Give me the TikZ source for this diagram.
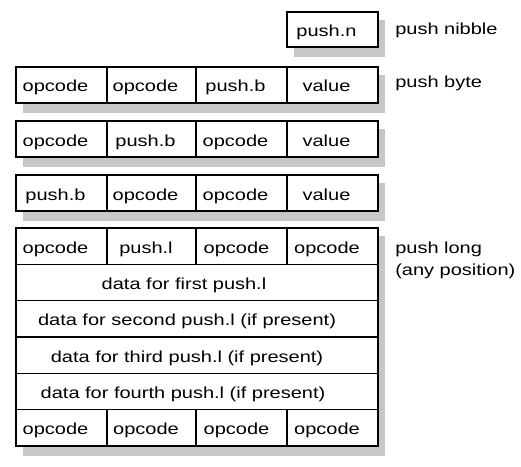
\documentclass[tikz,border=0pt]{standalone}
\usepackage{fontspec}
\newfontfamily\cellfont[FakeStretch=1.25]{Liberation Sans}
\usepackage{tikz}

\tikzset{
  shade/.style={fill=black!22},
  frame/.style={draw, fill=white, line width=0.8pt},
  rule/.style={line width=0.8pt},
  txt/.style={text height=10.5pt, text depth=0pt},
  lbl/.style={txt, anchor=west, inner sep=0pt},
}

\begin{document}
\begin{tikzpicture}[x=0.75pt,y=-0.75pt,font=\cellfont\fontsize{12}{14}\selectfont,
    every node/.append style={txt}]
  \useasboundingbox[fill=white] (0,0) rectangle (521,467);
  % push nibble: single cell
  \fill[shade] (294,20) rectangle (385,57);
  \draw[frame] (287,12) rectangle (378,47);
  \node (nib) at (326.5,29.5) {push.n};
  \node[lbl] (lblNib) at (395,28) {push nibble};
  % push byte: three rows of four cells
  \foreach \top/\a/\b/\c/\d [count=\i] in {67/opcode/opcode/push.b/value,
      121/opcode/push.b/opcode/value, 175/push.b/opcode/opcode/value} {
    \fill[shade] (23,{\top+8}) rectangle (385,{\top+46});
    \draw[frame] (16,\top) rectangle (378,{\top+36});
    \foreach \x in {107,196,287}
      \draw[rule] (\x,\top) -- (\x,{\top+36});
    \node (b\i a) at (55.5,{\top+18}) {\a};
    \node (b\i b) at (145.5,{\top+18}) {\b};
    \node (b\i c) at (235.5,{\top+18}) {\c};
    \node (b\i d) at (326.5,{\top+18}) {\d};
  }
  \node[lbl] (lblByte) at (395,81) {push byte};
  % push long: opcodes, up to four data words, opcodes
  \fill[shade] (23,236) rectangle (385,456);
  \draw[frame] (16,228) rectangle (378,446);
  \foreach \y in {264.3,300.7,337,373.3,409.7}
    \draw[rule] (16,\y) -- (378,\y);
  \foreach \x in {107,196,287} {
    \draw[rule] (\x,228) -- (\x,264.3);
    \draw[rule] (\x,409.7) -- (\x,446);
  }
  \foreach \t [count=\i] in {opcode,push.l,opcode,opcode}
    \node (top\i) at ({55.5+(\i-1)*90.5},246.2) {\t};
  \node (d1) at (184,282.5) {data for first push.l};
  \node (d2) at (187,318.8) {data for second push.l (if present)};
  \node (d3) at (187,355.2) {data for third push.l (if present)};
  \node (d4) at (183,391.5) {data for fourth push.l (if present)};
  \foreach \t [count=\i] in {opcode,opcode,opcode,opcode}
    \node (bot\i) at ({55.5+(\i-1)*90.5},427.8) {\t};
  \node[lbl] (lblLong) at (395,246) {push long};
  \node[lbl] (lblPos) at (395,268) {(any position)};
\end{tikzpicture}
\end{document}
